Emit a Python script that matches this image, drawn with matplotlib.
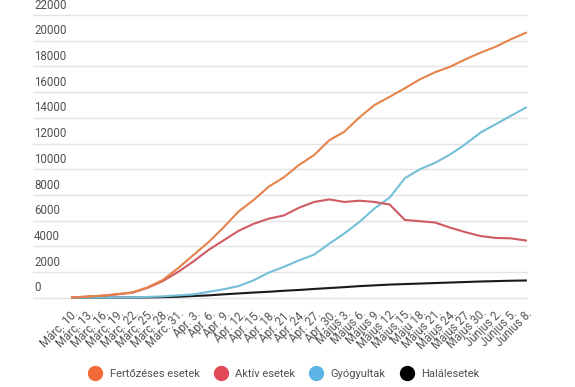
import matplotlib
matplotlib.use("Agg")
from matplotlib import pyplot as plt
from matplotlib.lines import Line2D

plt.rcParams["font.family"] = ["Roboto", "DejaVu Sans"]

dates = ["Márc. 10.", "Márc. 13.", "Márc. 16.", "Márc. 19.", "Márc. 22.", "Márc. 25.",
         "Márc. 28.", "Márc. 31.", "Ápr. 3.", "Ápr. 6.", "Ápr. 9.", "Ápr. 12.", "Ápr. 15.",
         "Ápr. 18.", "Ápr. 21.", "Ápr. 24.", "Ápr. 27.", "Ápr. 30.", "Május 3.", "Május 6.",
         "Május 9.", "Május 12.", "Május 15.", "Máju 18.", "Május 21.", "Május 24.",
         "Május 27.", "Május 30.", "Június 2.", "Június 5.", "Június 8."]

fertozeses = [15, 90, 160, 280, 420, 810, 1380, 2290, 3300, 4300, 5450, 6700, 7600, 8640,
              9370, 10330, 11100, 12250, 12920, 14040, 15000, 15640, 16300, 17000, 17550,
              17980, 18550, 19070, 19530, 20110, 20620]
aktiv = [15, 85, 150, 260, 390, 770, 1290, 2000, 2800, 3700, 4450, 5200, 5750, 6150, 6400,
         7000, 7450, 7650, 7450, 7550, 7450, 7250, 6050, 5950, 5850, 5450, 5100, 4800, 4650,
         4620, 4450]
gyogyultak = [0, 0, 5, 10, 20, 60, 100, 180, 250, 450, 650, 900, 1350, 1950, 2400, 2900,
              3350, 4200, 5000, 5900, 6950, 7800, 9300, 10000, 10500, 11150, 11950, 12850,
              13500, 14150, 14800]
halalesetek = [0, 0, 2, 5, 10, 20, 40, 70, 130, 180, 260, 330, 400, 460, 540, 600, 680, 750,
               820, 900, 960, 1020, 1060, 1100, 1140, 1180, 1220, 1260, 1290, 1320, 1340]

y_ticks = [0, 2000, 4000, 6000, 8000, 10000, 12000, 14000, 16000, 18000, 20000, 22000]
series_names = ["Fertőzéses esetek", "Aktív esetek", "Gyógyultak", "Halálesetek"]
line_colors = ["#e5834a", "#cf5a63", "#74bfd8", "#1a1a1a"]
dot_colors = ["#f26a36", "#e04a57", "#5bb4e5", "#000000"]

fig = plt.figure(figsize=(5.75, 3.87), dpi=100)
ax = fig.add_axes([0.0574, 0.2248, 0.8606, 0.739])

x = list(range(len(dates)))
for vals, c in zip([halalesetek, gyogyultak, aktiv, fertozeses], line_colors[::-1]):
    ax.plot(x, vals, color=c, lw=1.5, solid_joinstyle="round", zorder=3)

ax.set_xlim(-2.58, 30.13)
ax.set_ylim(-180, 22080)

for yv in y_ticks:
    ax.axhline(yv, color="#e3e3e3", lw=1, zorder=1)
    ax.text(0.002, yv + 260, str(yv), transform=ax.get_yaxis_transform(),
            ha="left", va="bottom", fontsize=8.3, color="#505050")

ax.set_yticks([])
ax.set_xticks(x)
ax.set_xticklabels(dates, rotation=45, ha="right", va="top", rotation_mode="anchor",
                   fontsize=8.3, color="#555555")
ax.tick_params(axis="x", length=0, pad=5)
for s in ax.spines.values():
    s.set_visible(False)

handles = [Line2D([], [], ls="", marker="o", markersize=10, color=c) for c in dot_colors]
fig.legend(handles, series_names, loc="center", bbox_to_anchor=(0.49, 0.034), ncol=4,
           frameon=False, fontsize=8, handletextpad=0.3, columnspacing=0.9,
           labelcolor="#505050")

fig.savefig("out.png", dpi=100)
